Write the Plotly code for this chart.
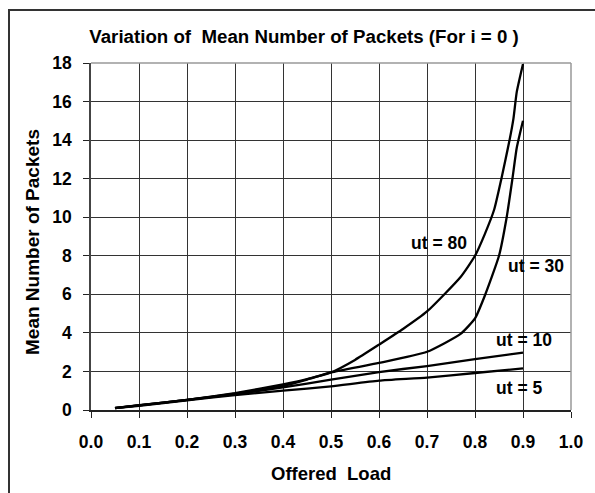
import plotly.graph_objects as go

x_common = [0.05, 0.1, 0.2, 0.3, 0.4, 0.5, 0.6, 0.7, 0.8, 0.9]
ut5 = [0.1, 0.22, 0.5, 0.77, 1.0, 1.23, 1.52, 1.68, 1.92, 2.16]
ut10 = [0.1, 0.24, 0.52, 0.82, 1.17, 1.57, 1.97, 2.28, 2.64, 2.98]

x_ut30 = [0.05, 0.1, 0.2, 0.3, 0.4, 0.45, 0.5, 0.6, 0.7, 0.77, 0.8, 0.82, 0.85, 0.866, 0.878, 0.887, 0.9]
ut30 = [0.11, 0.24, 0.52, 0.85, 1.25, 1.58, 1.95, 2.44, 3.02, 3.95, 4.75, 5.9, 8.0, 10.0, 12.0, 13.6, 15.0]

x_ut80 = [0.05, 0.1, 0.2, 0.3, 0.4, 0.45, 0.5, 0.55, 0.6, 0.65, 0.7, 0.77, 0.8, 0.82, 0.84, 0.855, 0.872, 0.88, 0.887, 0.9]
ut80 = [0.1, 0.25, 0.52, 0.88, 1.33, 1.6, 1.95, 2.6, 3.39, 4.2, 5.11, 6.9, 8.0, 9.1, 10.4, 12.0, 14.0, 15.1, 16.5, 17.95]

labels = ["ut = 5", "ut = 10", "ut = 30", "ut = 80"]
label_pos = [(0.892, 1.14), (0.903, 3.65), (0.927, 7.45), (0.726, 8.66)]

x_ticks = [0.0, 0.1, 0.2, 0.3, 0.4, 0.5, 0.6, 0.7, 0.8, 0.9, 1.0]
x_ticktext = ["0.0", "0.1", "0.2", "0.3", "0.4", "0.5", "0.6", "0.7", "0.8", "0.9", "1.0"]
y_ticks = [0, 2, 4, 6, 8, 10, 12, 14, 16, 18]

FONT = "Liberation Sans, Arial, sans-serif"

fig = go.Figure()
line_style = dict(color="black", width=2.3, shape="spline", smoothing=0.5)
for xs, ys, name in [(x_common, ut5, "ut = 5"), (x_common, ut10, "ut = 10"),
                     (x_ut30, ut30, "ut = 30"), (x_ut80, ut80, "ut = 80")]:
    fig.add_trace(go.Scatter(x=xs, y=ys, mode="lines", name=name, line=line_style,
                             showlegend=False, hoverinfo="skip"))

annotations = []
for txt, (ax, ay) in zip(labels, label_pos):
    annotations.append(dict(x=ax, y=ay, xref="x", yref="y", text="<b>%s</b>" % txt,
                            showarrow=False, font=dict(family=FONT, size=17.5, color="black"),
                            xanchor="center", yanchor="middle"))
# axis titles
annotations.append(dict(x=(331 - 91) / 480, y=(410 - 473) / 347, xref="paper", yref="paper",
                        text="<b>Offered  Load</b>", showarrow=False,
                        font=dict(family=FONT, size=18.5, color="black"),
                        xanchor="center", yanchor="middle"))
annotations.append(dict(x=(33 - 91) / 480, y=(410 - 242) / 347, xref="paper", yref="paper",
                        text="<b>Mean Number of Packets</b>", showarrow=False, textangle=-90,
                        font=dict(family=FONT, size=19, color="black"),
                        xanchor="center", yanchor="middle"))

fig.update_layout(
    width=595, height=493,
    margin=dict(l=91, r=24, t=63, b=83),
    paper_bgcolor="white", plot_bgcolor="white",
    title=dict(text="<b>Variation of  Mean Number of Packets (For i = 0 )</b>",
               x=(304 - 91) / 480, xref="paper", xanchor="center",
               y=1 - 36 / 493, yref="container", yanchor="middle",
               font=dict(family=FONT, size=18.7, color="black")),
    annotations=annotations,
    shapes=[
        dict(type="rect", xref="paper", yref="paper",
             x0=(9 - 91) / 480, x1=(605 - 91) / 480,
             y0=(410 - 505) / 347, y1=(410 - 10) / 347,
             line=dict(color="#333333", width=2), fillcolor="rgba(0,0,0,0)", layer="below"),
        dict(type="line", xref="paper", yref="paper", x0=0, x1=1, y0=1, y1=1,
             line=dict(color="#999999", width=1.5)),
        dict(type="line", xref="paper", yref="paper", x0=1, x1=1, y0=0, y1=1,
             line=dict(color="#999999", width=1.5)),
    ],
)

fig.update_xaxes(
    range=[0, 1.0], tickvals=x_ticks, ticktext=["<b>%s</b>" % t for t in x_ticktext],
    showgrid=True, gridcolor="#333333", gridwidth=1,
    showline=True, linecolor="#222222", linewidth=1.5,
    ticks="outside", ticklen=6, tickcolor="#222222", tickwidth=1,
    tickfont=dict(family=FONT, size=17.5, color="black"),
    ticklabelstandoff=9, zeroline=False, fixedrange=True,
)
fig.update_yaxes(
    range=[0, 18], tickvals=y_ticks, ticktext=["<b>%d</b>" % v for v in y_ticks],
    showgrid=True, gridcolor="#333333", gridwidth=1,
    showline=True, linecolor="#444444", linewidth=1.5,
    ticks="outside", ticklen=6, tickcolor="#222222", tickwidth=1,
    tickfont=dict(family=FONT, size=17.5, color="black"),
    ticklabelstandoff=8, zeroline=False, fixedrange=True,
)

fig.write_html("out.html", config={"displayModeBar": False},
               post_script="document.body.style.margin='0';document.body.style.overflow='hidden';")
